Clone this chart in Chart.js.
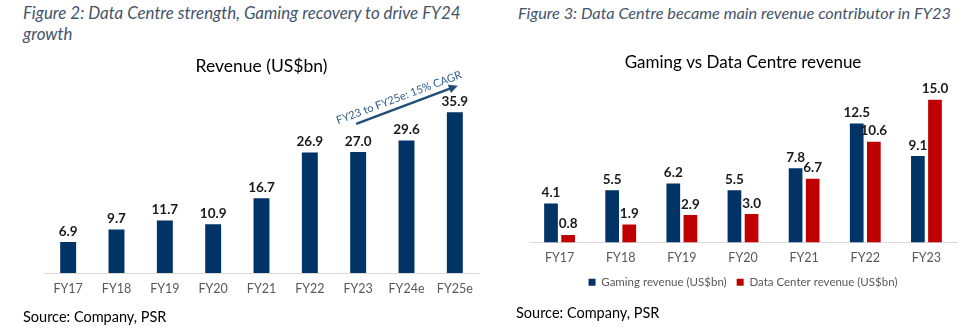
<!DOCTYPE html>
<html>
<head>
<meta charset="utf-8">
<script src="https://cdn.jsdelivr.net/npm/chart.js@4.4.1/dist/chart.umd.min.js"></script>
<style>
  body { margin: 0; background: #fff; width: 972px; height: 335px; position: relative; overflow: hidden; font-family: Lato, "Open Sans", sans-serif; }
  .caption { position: absolute; font-style: italic; line-height: 21px; color: #44546A; white-space: nowrap; }
  .source { position: absolute; font-size: 14.5px; color: #000; }
  canvas { position: absolute; }
</style>
</head>
<body>
<div class="caption" style="left:23px; top:2px; font-size:16.9px;">Figure 2: Data Centre strength, Gaming recovery to drive FY24<br>growth</div>
<div class="caption" style="left:518px; top:2px; font-size:16.3px;">Figure 3: Data Centre became main revenue contributor in FY23</div>
<canvas id="chartRevenue" width="490" height="260" style="left:0; top:50px;"></canvas>
<canvas id="chartSegments" width="482" height="253" style="left:490px; top:45px;"></canvas>
<div class="source" style="left:23px; top:308px;">Source: Company, PSR</div>
<div class="source" style="left:516px; top:304px;">Source: Company, PSR</div>
<script>
// datos de la figura 2
const revenueYears = ['FY17', 'FY18', 'FY19', 'FY20', 'FY21', 'FY22', 'FY23', 'FY24e', 'FY25e'];
const revenueValues = [6.9, 9.7, 11.7, 10.9, 16.7, 26.9, 27.0, 29.6, 35.9];

// datos de la figura 3
const segmentYears = ['FY17', 'FY18', 'FY19', 'FY20', 'FY21', 'FY22', 'FY23'];
const gamingValues = [4.1, 5.5, 6.2, 5.5, 7.8, 12.5, 9.1];
const dataCenterValues = [0.8, 1.9, 2.9, 3.0, 6.7, 10.6, 15.0];

// flecha CAGR (categoria, valor)
const cagrFrom = ['FY23', 33.3];
const cagrTo = ['FY25e', 41.8];
const cagrText = 'FY23 to FY25e: 15% CAGR';

const NAVY = '#003366';
const RED = '#C00000';

Chart.defaults.font.family = 'Lato, "Open Sans", sans-serif';
Chart.defaults.color = '#595959';

// etiquetas de valor encima de cada barra
const valueLabels = {
    id: 'valueLabels',
    afterDatasetsDraw(chart) {
        const ctx = chart.ctx;
        ctx.save();
        ctx.font = 'bold 13.5px Lato, "Open Sans", sans-serif';
        ctx.fillStyle = '#1a1a1a';
        ctx.textAlign = 'center';
        ctx.textBaseline = 'bottom';
        chart.data.datasets.forEach((ds, i) => {
            chart.getDatasetMeta(i).data.forEach((bar, j) => {
                ctx.fillText(ds.data[j].toFixed(1), bar.x, bar.y - 4);
            });
        });
        ctx.restore();
    }
};

// flecha con texto de crecimiento
const cagrArrow = {
    id: 'cagrArrow',
    afterDatasetsDraw(chart) {
        const x = chart.scales.x, y = chart.scales.y, ctx = chart.ctx;
        const x1 = x.getPixelForValue(revenueYears.indexOf(cagrFrom[0])) - 2;
        const y1 = y.getPixelForValue(cagrFrom[1]);
        const x2 = x.getPixelForValue(revenueYears.indexOf(cagrTo[0])) + 3;
        const y2 = y.getPixelForValue(cagrTo[1]);
        const ang = Math.atan2(y2 - y1, x2 - x1);
        ctx.save();
        ctx.strokeStyle = '#1F4E79';
        ctx.fillStyle = '#1F4E79';
        ctx.lineWidth = 2.5;
        ctx.beginPath();
        ctx.moveTo(x1, y1);
        ctx.lineTo(x2 - 7 * Math.cos(ang), y2 - 7 * Math.sin(ang));
        ctx.stroke();
        ctx.beginPath();
        ctx.moveTo(x2, y2);
        ctx.lineTo(x2 - 9 * Math.cos(ang) + 4.5 * Math.sin(ang), y2 - 9 * Math.sin(ang) - 4.5 * Math.cos(ang));
        ctx.lineTo(x2 - 9 * Math.cos(ang) - 4.5 * Math.sin(ang), y2 - 9 * Math.sin(ang) + 4.5 * Math.cos(ang));
        ctx.closePath();
        ctx.fill();
        // texto paralelo a la flecha
        ctx.translate((x1 + x2) / 2, (y1 + y2) / 2);
        ctx.rotate(ang);
        ctx.font = '11px Lato, "Open Sans", sans-serif';
        ctx.fillStyle = '#2E5C8A';
        ctx.textAlign = 'center';
        ctx.textBaseline = 'bottom';
        ctx.fillText(cagrText, -5, -4);
        ctx.restore();
    }
};

new Chart(document.getElementById('chartRevenue'), {
    type: 'bar',
    data: {
        labels: revenueYears,
        datasets: [{
            label: 'Revenue (US$bn)',
            data: revenueValues,
            backgroundColor: NAVY,
            borderWidth: 0,
            barPercentage: 0.33,
            categoryPercentage: 1
        }]
    },
    options: {
        responsive: false,
        animation: false,
        layout: { padding: { left: 44, right: 11, top: 0, bottom: 0 } },
        plugins: {
            legend: { display: false },
            tooltip: { enabled: false },
            title: {
                display: true,
                text: 'Revenue (US$bn)',
                color: '#000',
                font: { size: 17.5, weight: 'normal' },
                padding: { top: 6, bottom: 6.5 }
            }
        },
        scales: {
            x: {
                grid: { display: false, drawTicks: false },
                border: { display: true, color: '#D9D9D9', width: 1 },
                ticks: { padding: 8, font: { size: 12.5 }, color: '#595959' },
                afterFit(scale) { scale.height = 37; }
            },
            y: { display: false, min: 0, max: 42.3 }
        }
    },
    plugins: [valueLabels, cagrArrow]
});

new Chart(document.getElementById('chartSegments'), {
    type: 'bar',
    data: {
        labels: segmentYears,
        datasets: [{
            label: 'Gaming revenue (US$bn)',
            data: gamingValues,
            backgroundColor: NAVY,
            borderWidth: 0,
            barPercentage: 0.8,
            categoryPercentage: 0.56
        }, {
            label: 'Data Center revenue (US$bn)',
            data: dataCenterValues,
            backgroundColor: RED,
            borderWidth: 0,
            barPercentage: 0.8,
            categoryPercentage: 0.56
        }]
    },
    options: {
        responsive: false,
        animation: false,
        layout: { padding: { left: 39, right: 15, top: 0, bottom: 0 } },
        plugins: {
            tooltip: { enabled: false },
            title: {
                display: true,
                text: 'Gaming vs Data Centre revenue',
                color: '#000',
                font: { size: 17, weight: 'normal' },
                padding: { top: 7, bottom: 5 }
            },
            legend: {
                position: 'bottom',
                labels: { boxWidth: 7, boxHeight: 7, padding: 10, font: { size: 11.5 }, color: '#595959' }
            }
        },
        scales: {
            x: {
                grid: { display: false, drawTicks: false },
                border: { display: true, color: '#D9D9D9', width: 1 },
                ticks: { padding: 8, font: { size: 12.5 }, color: '#595959' },
                afterFit(scale) { scale.height = 24; }
            },
            y: { display: false, min: 0, max: 17.35 }
        }
    },
    plugins: [valueLabels]
});
</script>
</body>
</html>
